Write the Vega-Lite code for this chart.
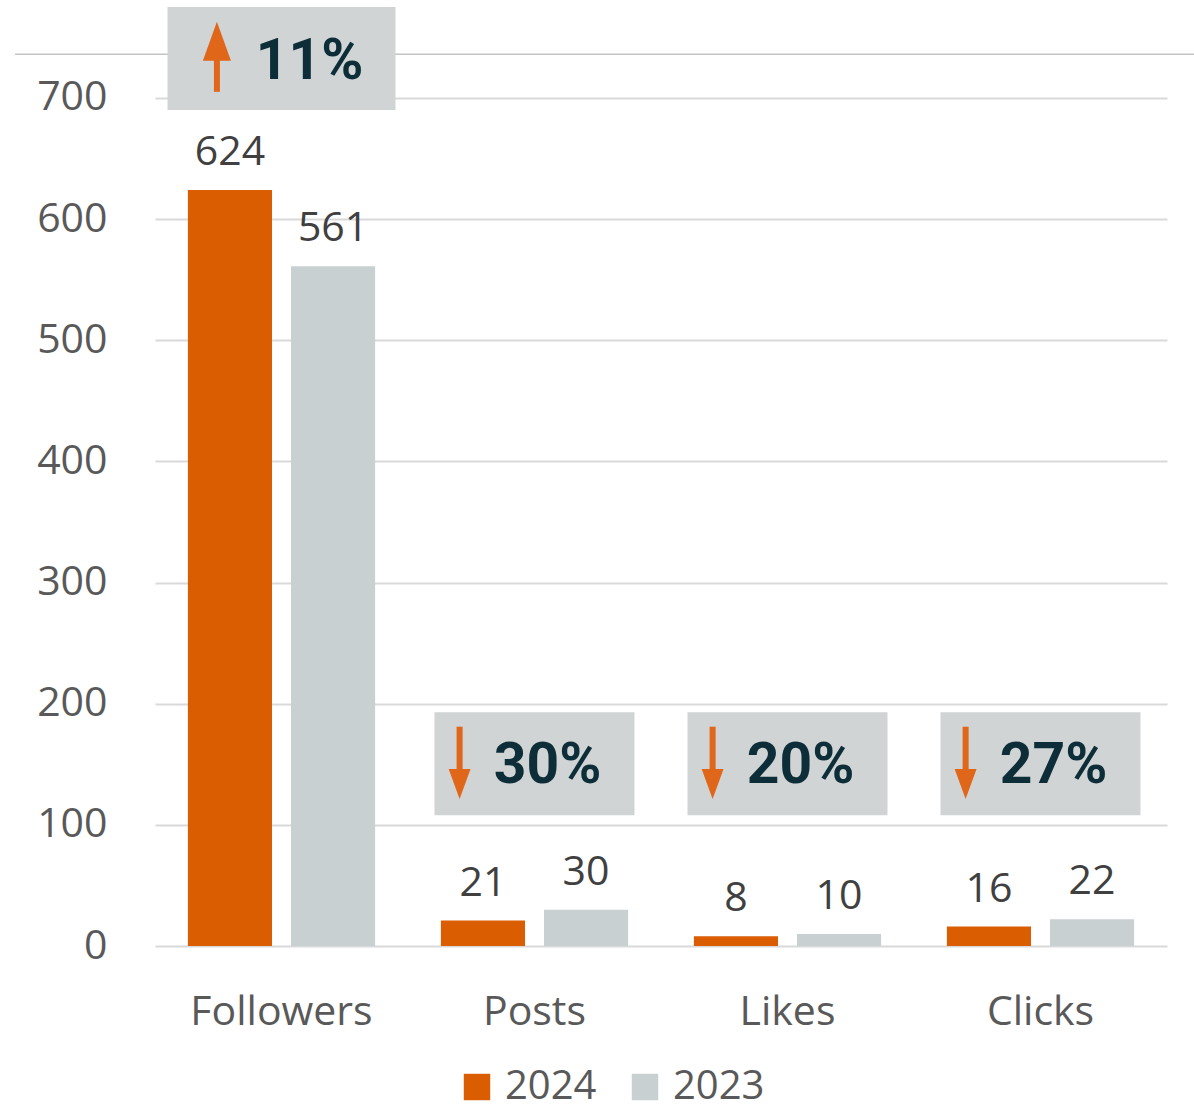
{
  "$schema": "https://vega.github.io/schema/vega-lite/v6.json",
  "width": 1012,
  "height": 939,
  "autosize": {"type": "none"},
  "padding": {"left": 155, "top": 7, "right": 27, "bottom": 165},
  "background": "white",
  "config": {
    "view": {"stroke": null},
    "font": "Open Sans"
  },
  "datasets": {
    "metrics": [
      {"category": "Followers", "year": "2024", "value": 624},
      {"category": "Followers", "year": "2023", "value": 561},
      {"category": "Posts", "year": "2024", "value": 21},
      {"category": "Posts", "year": "2023", "value": 30},
      {"category": "Likes", "year": "2024", "value": 8},
      {"category": "Likes", "year": "2023", "value": 10},
      {"category": "Clicks", "year": "2024", "value": 16},
      {"category": "Clicks", "year": "2023", "value": 22}
    ],
    "annotations": [
      {"category": "Followers", "change": "11%", "direction": "up"},
      {"category": "Posts", "change": "30%", "direction": "down"},
      {"category": "Likes", "change": "20%", "direction": "down"},
      {"category": "Clicks", "change": "27%", "direction": "down"}
    ]
  },
  "resolve": {"scale": {"x": "independent"}},
  "layer": [
    {
      "data": {"values": [{"note": "divider"}]},
      "mark": {"type": "rule", "color": "#C4C4C4", "strokeWidth": 1.5, "clip": false},
      "encoding": {
        "x": {"datum": -0.1383, "type": "quantitative", "scale": {"domain": [0, 1]}, "axis": null},
        "x2": {"datum": 1.0267},
        "y": {"datum": 736, "type": "quantitative"}
      }
    },
    {
      "layer": [
        {
          "data": {"name": "metrics"},
          "mark": {"type": "bar"},
          "encoding": {
            "x": {
              "field": "category", "type": "nominal",
              "sort": ["Followers", "Posts", "Likes", "Clicks"],
              "scale": {"paddingInner": 0.26, "paddingOuter": 0.13},
              "title": null,
              "axis": {
                "labelAngle": 0, "labelFontSize": 41, "labelColor": "#595959",
                "labelPadding": 46, "labelLimit": 0, "domain": false, "ticks": false, "grid": false
              }
            },
            "xOffset": {
              "field": "year", "type": "nominal", "sort": ["2024", "2023"],
              "scale": {"paddingInner": 0.184, "paddingOuter": 0}
            },
            "y": {
              "field": "value", "type": "quantitative",
              "scale": {"domain": [0, 775], "nice": false},
              "title": null,
              "axis": {
                "values": [0, 100, 200, 300, 400, 500, 600, 700],
                "labelFontSize": 41, "labelColor": "#595959", "labelPadding": 48,
                "domain": false, "ticks": false, "grid": true,
                "gridColor": "#D9D9D9", "gridWidth": 2
              }
            },
            "color": {
              "field": "year", "type": "nominal", "sort": ["2024", "2023"],
              "scale": {"domain": ["2024", "2023"], "range": ["#DA5D02", "#C8D0D2"]},
              "legend": {
                "orient": "none", "legendX": 302, "legendY": 1060,
                "direction": "horizontal", "title": null,
                "symbolType": "square", "symbolSize": 700, "symbolStrokeWidth": 0,
                "labelFontSize": 40, "labelColor": "#595959", "labelOffset": 8,
                "columnPadding": 28
              }
            }
          }
        },
        {
          "data": {"name": "metrics"},
          "mark": {"type": "text", "fontSize": 41, "color": "#404040", "baseline": "alphabetic", "dy": -25},
          "encoding": {
            "x": {"field": "category", "type": "nominal", "sort": ["Followers", "Posts", "Likes", "Clicks"]},
            "xOffset": {"field": "year", "type": "nominal", "sort": ["2024", "2023"]},
            "y": {"field": "value", "type": "quantitative"},
            "text": {"field": "value", "type": "quantitative"}
          }
        },
        {
          "data": {"name": "annotations"},
          "transform": [{"filter": "datum.category === 'Followers'"}],
          "mark": {"type": "bar", "width": 228, "color": "#D0D4D5"},
          "encoding": {
            "x": {"field": "category", "type": "nominal", "sort": ["Followers", "Posts", "Likes", "Clicks"]},
            "y": {"datum": 690, "type": "quantitative"},
            "y2": {"datum": 775}
          }
        },
        {
          "data": {"name": "annotations"},
          "transform": [{"filter": "datum.category !== 'Followers'"}],
          "mark": {"type": "bar", "width": 200, "color": "#D0D4D5"},
          "encoding": {
            "x": {"field": "category", "type": "nominal", "sort": ["Followers", "Posts", "Likes", "Clicks"]},
            "y": {"datum": 108, "type": "quantitative"},
            "y2": {"datum": 193}
          }
        },
        {
          "data": {"name": "annotations"},
          "transform": [{"filter": "datum.direction === 'up'"}],
          "mark": {"type": "rule", "color": "#E0661A", "strokeWidth": 6},
          "encoding": {
            "x": {"field": "category", "type": "nominal", "sort": ["Followers", "Posts", "Likes", "Clicks"], "bandPosition": 0.155},
            "y": {"datum": 705, "type": "quantitative"},
            "y2": {"datum": 736}
          }
        },
        {
          "data": {"name": "annotations"},
          "transform": [{"filter": "datum.direction === 'up'"}],
          "mark": {"type": "point", "filled": true, "opacity": 1, "color": "#E0661A", "size": 1521, "shape": "M-0.72,1L0.72,1L0,-1Z"},
          "encoding": {
            "x": {"field": "category", "type": "nominal", "sort": ["Followers", "Posts", "Likes", "Clicks"], "bandPosition": 0.155},
            "y": {"datum": 746.7, "type": "quantitative"}
          }
        },
        {
          "data": {"name": "annotations"},
          "transform": [{"filter": "datum.direction === 'down'"}],
          "mark": {"type": "rule", "color": "#E0661A", "strokeWidth": 6},
          "encoding": {
            "x": {"field": "category", "type": "nominal", "sort": ["Followers", "Posts", "Likes", "Clicks"], "bandPosition": 0.1},
            "y": {"datum": 181, "type": "quantitative"},
            "y2": {"datum": 140}
          }
        },
        {
          "data": {"name": "annotations"},
          "transform": [{"filter": "datum.direction === 'down'"}],
          "mark": {"type": "point", "filled": true, "opacity": 1, "color": "#E0661A", "size": 900, "shape": "M-0.73,-1L0.73,-1L0,1Z"},
          "encoding": {
            "x": {"field": "category", "type": "nominal", "sort": ["Followers", "Posts", "Likes", "Clicks"], "bandPosition": 0.1},
            "y": {"datum": 133.7, "type": "quantitative"}
          }
        },
        {
          "data": {"name": "annotations"},
          "transform": [{"filter": "datum.direction === 'up'"}],
          "mark": {"type": "text", "font": "Roboto", "fontWeight": "bold", "fontSize": 57, "color": "#0D2D38", "baseline": "alphabetic", "align": "center"},
          "encoding": {
            "x": {"field": "category", "type": "nominal", "sort": ["Followers", "Posts", "Likes", "Clicks"], "bandPosition": 0.65},
            "y": {"datum": 715.7, "type": "quantitative"},
            "text": {"field": "change", "type": "nominal"}
          }
        },
        {
          "data": {"name": "annotations"},
          "transform": [{"filter": "datum.direction === 'down'"}],
          "mark": {"type": "text", "font": "Roboto", "fontWeight": "bold", "fontSize": 57, "color": "#0D2D38", "baseline": "alphabetic", "align": "center"},
          "encoding": {
            "x": {"field": "category", "type": "nominal", "sort": ["Followers", "Posts", "Likes", "Clicks"], "bandPosition": 0.57},
            "y": {"datum": 134.6, "type": "quantitative"},
            "text": {"field": "change", "type": "nominal"}
          }
        }
      ]
    }
  ]
}
